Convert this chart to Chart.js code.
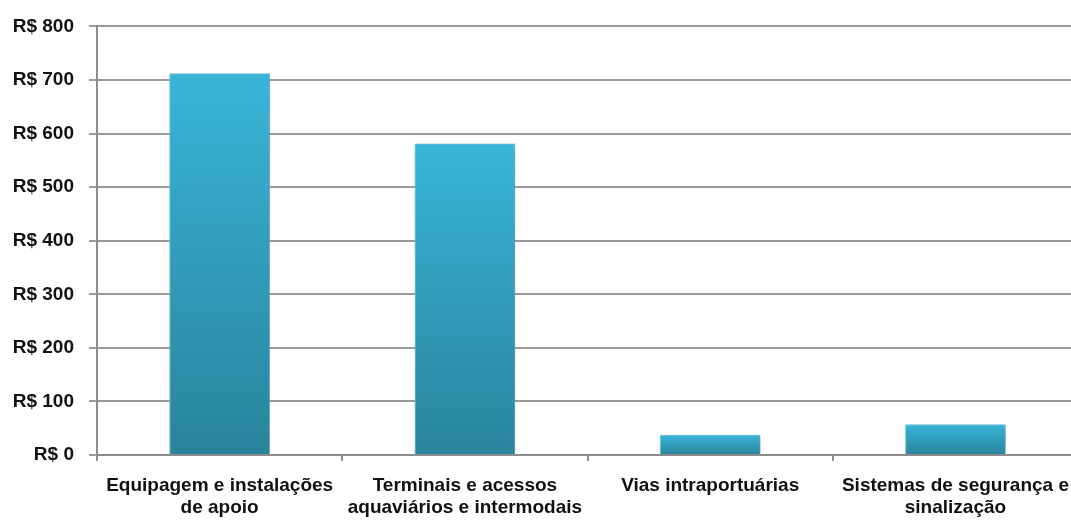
<!DOCTYPE html>
<html>
<head>
<meta charset="utf-8">
<script src="https://cdn.jsdelivr.net/npm/chart.js@4/dist/chart.umd.min.js"></script>
<style>
  html, body { margin: 0; padding: 0; background: #fff; overflow: hidden; }
  #wrap { width: 1083px; height: 523px; }
</style>
</head>
<body>
<div id="wrap"><canvas id="c" width="1083" height="523"></canvas></div>
<script>
const categories = [
  ['Equipagem e instalações', 'de apoio'],
  ['Terminais e acessos', 'aquaviários e intermodais'],
  ['Vias intraportuárias'],
  ['Sistemas de segurança e', 'sinalização']
];
const values = [712, 581, 37, 57];
const yTickLabels = ['R$ 0', 'R$ 100', 'R$ 200', 'R$ 300', 'R$ 400', 'R$ 500', 'R$ 600', 'R$ 700', 'R$ 800'];

const FONT = '"Liberation Sans", Arial, sans-serif';

function barGradient(ctx) {
  const chart = ctx.chart;
  const y = chart.scales && chart.scales.y;
  if (!y || ctx.raw === undefined) return '#33a6c8';
  const top = y.getPixelForValue(ctx.raw);
  const base = y.getPixelForValue(0);
  if (!isFinite(top) || !isFinite(base) || top === base) return '#33a6c8';
  const g = chart.ctx.createLinearGradient(0, top, 0, base);
  g.addColorStop(0, '#38b5d9');
  g.addColorStop(1, '#29839b');
  return g;
}

const shadowPlugin = {
  id: 'barShadow',
  beforeDatasetsDraw(chart) {
    const c = chart.ctx;
    c.save();
    c.shadowColor = 'rgba(0,0,0,0.28)';
    c.shadowBlur = 6;
    c.shadowOffsetX = 2;
    c.shadowOffsetY = 2;
  },
  afterDatasetsDraw(chart) {
    chart.ctx.restore();
  }
};

new Chart(document.getElementById('c'), {
  type: 'bar',
  data: {
    labels: categories,
    datasets: [{
      data: values,
      backgroundColor: barGradient,
      borderColor: 'rgba(110,200,228,0.9)',
      borderWidth: 1,
      barThickness: 100
    }]
  },
  options: {
    responsive: false,
    animation: false,
    layout: { padding: { top: 22, right: 0, left: 0, bottom: 0 } },
    plugins: { legend: { display: false }, tooltip: { enabled: false } },
    scales: {
      x: {
        offset: true,
        grid: {
          drawOnChartArea: false,
          drawTicks: true,
          tickLength: 6,
          color: '#8c8c8c',
          lineWidth: 2
        },
        border: { color: '#8c8c8c', width: 2 },
        ticks: {
          color: '#111',
          font: { family: FONT, size: 19, weight: 'bold', lineHeight: 1.15 },
          padding: 14,
          maxRotation: 0,
          autoSkip: false
        },
        afterFit(s) { s.height = 68; }
      },
      y: {
        min: 0,
        max: 800,
        ticks: {
          stepSize: 100,
          color: '#111',
          font: { family: FONT, size: 19, weight: 'bold' },
          padding: 15,
          callback: (v, i) => yTickLabels[i]
        },
        grid: {
          color: '#9a9a9a',
          lineWidth: 2,
          tickLength: 8
        },
        border: { color: '#8c8c8c', width: 2 },
        afterFit(s) { s.width = 97; }
      }
    }
  },
  plugins: [shadowPlugin]
});
</script>
</body>
</html>
